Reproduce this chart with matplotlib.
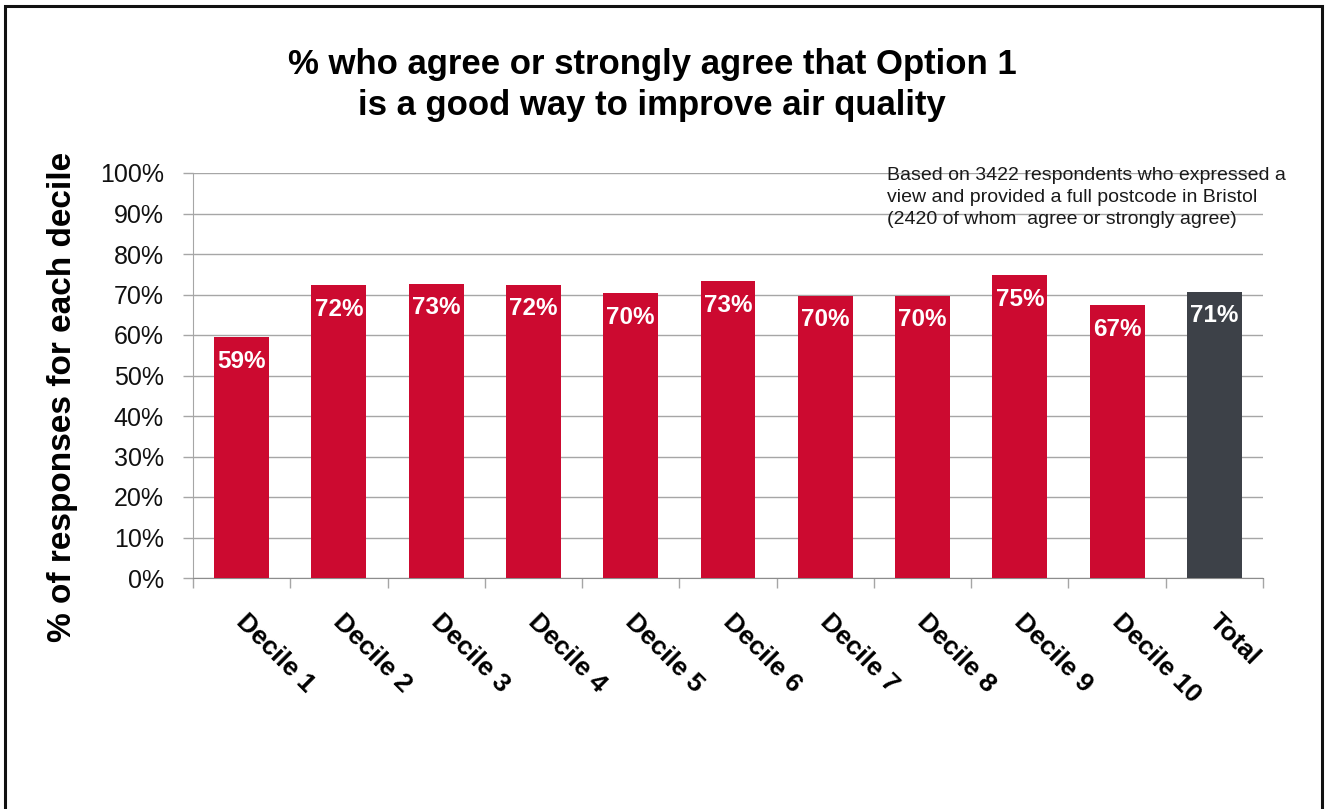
import matplotlib
matplotlib.use("Agg")
import matplotlib.pyplot as plt
from matplotlib.patches import Rectangle
from matplotlib.transforms import ScaledTranslation

plt.rcParams['font.family'] = ['Liberation Sans', 'DejaVu Sans']

categories = ["Decile 1", "Decile 2", "Decile 3", "Decile 4", "Decile 5",
              "Decile 6", "Decile 7", "Decile 8", "Decile 9", "Decile 10", "Total"]
values = [59.4, 72.3, 72.6, 72.4, 70.3, 73.3, 69.7, 69.7, 74.8, 67.4, 70.7]
yticks = [0, 10, 20, 30, 40, 50, 60, 70, 80, 90, 100]

title = "% who agree or strongly agree that Option 1\nis a good way to improve air quality"
ylabel = "% of responses for each decile"
note = ("Based on 3422 respondents who expressed a\n"
        "view and provided a full postcode in Bristol\n"
        "(2420 of whom  agree or strongly agree)")

RED = "#CC0A30"
DARK = "#3D4148"
GRID = "#A6A6A6"

W, H = 1330, 809
fig = plt.figure(figsize=(W / 100, H / 100), dpi=100)
ax = fig.add_axes([193 / W, 1 - 578 / H, (1263 - 193) / W, (578 - 173) / H])

x = list(range(len(categories)))
colors = [RED] * (len(categories) - 1) + [DARK]
bars = ax.bar(x, values, width=0.565, color=colors, zorder=3)

for xi, v in zip(x, values):
    ax.annotate(f"{v:.0f}%", xy=(xi, v), xytext=(0, -9), textcoords="offset points",
                ha="center", va="top", color="white", fontsize=17.5, fontweight="bold",
                zorder=4)

ax.set_xlim(-0.5, len(categories) - 0.5)
ax.set_ylim(0, 100)
ax.set_yticks(yticks)
ax.set_yticklabels([f"{t}%" for t in yticks], fontsize=18, color="#111111")
ax.yaxis.grid(True, color=GRID, linewidth=1.0, zorder=0)
ax.tick_params(axis="y", length=7, width=1, color=GRID, pad=14)

ax.set_xticks(x)
ax.set_xticklabels(categories, rotation=-45, ha="left", va="top",
                   rotation_mode="anchor", fontsize=19, fontweight="bold")
ax.tick_params(axis="x", which="major", length=0, pad=21)
shift = ScaledTranslation(7 / 100, -2 / 100, fig.dpi_scale_trans)
for lbl in ax.get_xticklabels():
    lbl.set_transform(lbl.get_transform() + shift)
ax.set_xticks([i - 0.5 for i in range(len(categories) + 1)], minor=True)
ax.tick_params(axis="x", which="minor", length=7, width=1, color=GRID)

for s in ["top", "right"]:
    ax.spines[s].set_visible(False)
ax.spines["left"].set_color(GRID)
ax.spines["bottom"].set_color("#8C8C8C")

ax.set_ylabel(ylabel, fontsize=24, fontweight="bold")
ax.yaxis.set_label_coords(-(193 - 78) / (1263 - 193), (578 - 397) / (578 - 173))

fig.text(652 / W, 1 - 48 / H, title, ha="center", va="top", fontsize=25,
         fontweight="bold", linespacing=1.3)
fig.text(887 / W, 1 - 167 / H, note, ha="left", va="top", fontsize=14,
         color="#1a1a1a", linespacing=1.38)

# outer frame around the chart area (open at the bottom edge)
fig.patches.append(Rectangle((5.5 / W, -0.05), (1321.5 - 5.5) / W, 1.05 - 5.5 / H,
                             transform=fig.transFigure, fill=False,
                             edgecolor="#111111", linewidth=2.2))

fig.savefig("out.png", dpi=100)
